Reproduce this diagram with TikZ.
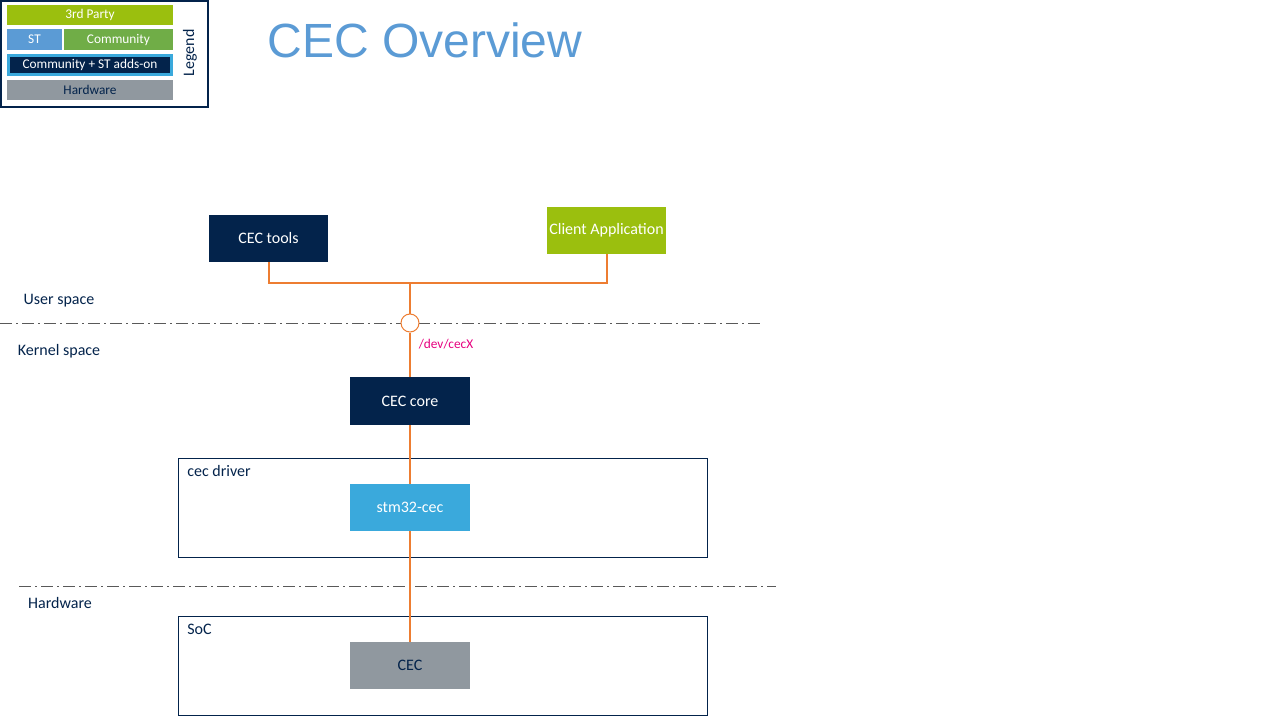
\documentclass[tikz,border=0pt]{standalone}
\usepackage{fontspec}
\setmainfont{Carlito}
\newfontfamily\titlefont{Liberation Sans}
\usetikzlibrary{positioning}
\definecolor{stnavy}{HTML}{03234B}
\definecolor{thirdgreen}{HTML}{9BBF0E}
\definecolor{stblue}{HTML}{5B9BD5}
\definecolor{commgreen}{HTML}{70AD47}
\definecolor{stlight}{HTML}{3AA9DC}
\definecolor{hwgray}{HTML}{90989F}
\definecolor{linkorange}{HTML}{ED7D31}
\definecolor{devpink}{HTML}{E6007E}
\begin{document}
\begin{tikzpicture}[x=0.75pt, y=-0.75pt,
  block/.style={inner sep=0pt, align=center, font=\fontsize{12}{14}\selectfont, text=white, minimum width=89.5pt, minimum height=35.5pt},
  legbox/.style={inner sep=0pt, font=\fontsize{10}{12}\selectfont, text=white, minimum height=15pt},
  frame/.style={draw=stnavy, line width=0.75pt, minimum width=396.75pt, minimum height=74.25pt, inner sep=0pt},
  lbl/.style={text=stnavy, font=\fontsize{12}{14}\selectfont, inner sep=0pt},
  link/.style={draw=linkorange, line width=1.5pt},
  border/.style={draw=black!65, line width=0.75pt, dash pattern=on 9pt off 3pt on 1.5pt off 3pt}]
\useasboundingbox (0,0) rectangle (1280,720);
\draw[stnavy, line width=1.6pt] (1,1) rectangle (208,107);
\node[legbox, fill=thirdgreen, minimum width=124.5pt] (third) at (90,15) {3rd Party};
\node[legbox, fill=stblue, minimum width=41.25pt, minimum height=15.75pt] (st) at (34.5,39.5) {ST};
\node[legbox, fill=commgreen, minimum width=81.75pt, minimum height=15.75pt] (comm) at (118.5,39.5) {Community};
\node[legbox, fill=stnavy, draw=stlight, line width=2.25pt, minimum width=122.25pt, minimum height=14.25pt] (addson) at (90,65) {Community + ST adds-on};
\node[legbox, fill=hwgray, text=stnavy, minimum width=124.5pt] (hw) at (90,90) {Hardware};
\node[lbl, rotate=90] (legend) at (190,53) {Legend};
\node[text=stblue, font=\titlefont\fontsize{36}{40}\selectfont, inner sep=0pt] (title) at (425,40) {CEC Overview};
\node[frame] (driver) at (442.5,507.5) {};
\node[frame] (soc) at (442.5,665.5) {};
\node[lbl, anchor=north west] (driverlbl) at (187,465.5) {cec driver};
\node[lbl, anchor=north west] (soclbl) at (187,623.5) {SoC};
\node[block, fill=stnavy] (tools) at (268.5,238.5) {CEC tools};
\node[block, fill=thirdgreen] (client) at (606.5,230.5) {Client Application};
\node[block, fill=stnavy, minimum width=90pt, minimum height=36pt] (core) at (410,401) {CEC core};
\node[block, fill=stlight, minimum width=90pt] (stm) at (410,507.5) {stm32-cec};
\node[block, fill=hwgray, text=stnavy, minimum width=90pt] (cec) at (410,665.5) {CEC};
\node[lbl] (user) at (59,300.5) {User space};
\node[lbl] (kernel) at (59,351.5) {Kernel space};
\node[lbl] (hwlbl) at (60,602.5) {Hardware};
\coordinate (junc) at (410,283);
\coordinate (ukleft) at (0,323);
\coordinate (ukright) at (760,323);
\coordinate (khleft) at (19,586);
\coordinate (khright) at (776,586);
\draw[border] (ukleft) -- (ukright);
\draw[border] (khleft) -- (khright);
\node[circle, draw=linkorange, fill=white, line width=0.75pt, minimum size=13.5pt, inner sep=0pt] (port) at (410,323) {};
\node[text=devpink, font=\fontsize{10}{12}\selectfont, inner sep=0pt] (devnode) at (446,344) {/dev/cecX};
\draw[link] (tools.south) |- (junc);
\draw[link] (client.south) |- (junc);
\draw[link] (junc) -- (port);
\draw[link] (port) -- (core);
\draw[link] (core) -- (stm);
\draw[link] (stm) -- (cec);
\end{tikzpicture}
\end{document}
